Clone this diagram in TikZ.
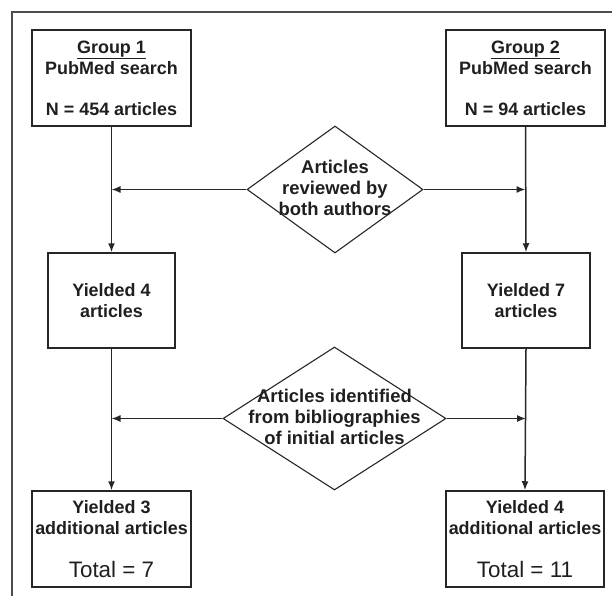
\documentclass[tikz,border=0pt]{standalone}
\usepackage{fontspec}
\setmainfont{Liberation Sans}
\usetikzlibrary{shapes.geometric,arrows.meta}
\tikzset{
  box/.style={draw=black!85, line width=1.5bp, inner sep=0pt, align=center,
    font=\bfseries\fontsize{18}{21.5}\selectfont, text=black!88},
  dia/.style={draw=black!85, line width=1.1bp, diamond, inner sep=0pt},
  dtext/.style={inner sep=0pt, align=center, font=\bfseries\fontsize{18.5}{21}\selectfont, text=black!88},
  arr/.style={draw=black!85, line width=1.5bp, -{Latex[length=9bp,width=7bp]}},
  harr/.style={draw=black!85, line width=1.4bp, -{Latex[length=9bp,width=7bp]}},
  frame/.style={draw=black!70, line width=1.3bp}
}
\begin{document}
\begin{tikzpicture}[x=1bp,y=-1bp]
\useasboundingbox (0,0) rectangle (612,596);
\draw[frame] (612,12) -- (12,12) -- (12,596);
\node[box, minimum width=159bp, minimum height=96bp] (b1) at (111.5,78)
  {\underline{Group 1}\\PubMed search\\[19bp]N = 454 articles};
\node[box, minimum width=159bp, minimum height=96bp] (b2) at (525.5,78)
  {\underline{Group 2}\\PubMed search\\[19bp]N = 94 articles};
\node[box, minimum width=127bp, minimum height=95bp] (b3) at (111.5,300.5)
  {Yielded 4\\articles};
\node[box, minimum width=128bp, minimum height=95bp] (b4) at (526,300.5)
  {Yielded 7\\articles};
\node[box, minimum width=159bp, minimum height=96bp] (b5) at (111.5,539)
  {Yielded 3\\additional articles\\[21bp]{\mdseries\fontsize{22.5}{26}\selectfont Total = 7}};
\node[box, minimum width=158bp, minimum height=96bp] (b6) at (525,539)
  {Yielded 4\\additional articles\\[21bp]{\mdseries\fontsize{22.5}{26}\selectfont Total = 11}};
\node[dia, minimum width=176bp, minimum height=127bp] (d1) at (335,189.5) {};
\node[dtext] (d1t) at (335,188) {Articles\\reviewed by\\both authors};
\node[dia, minimum width=223bp, minimum height=143bp] (d2) at (334.5,418.5) {};
\node[dtext] (d2t) at (334.5,417) {Articles identified\\from bibliographies\\of initial articles};
\draw[arr] (b1.south) -- (b3.north);
\draw[arr] (b2.south) -- (b4.north);
\draw[arr] (b3.south) -- (b5.north);
\draw[arr] (b4.south) -- (b6.north);
\draw[harr] (d1.west) -- (d1.west -| b1.south);
\draw[harr] (d1.east) -- (d1.east -| b2.south);
\draw[harr] (d2.west) -- (d2.west -| b3.south);
\draw[harr] (d2.east) -- (d2.east -| b4.south);
\end{tikzpicture}
\end{document}
